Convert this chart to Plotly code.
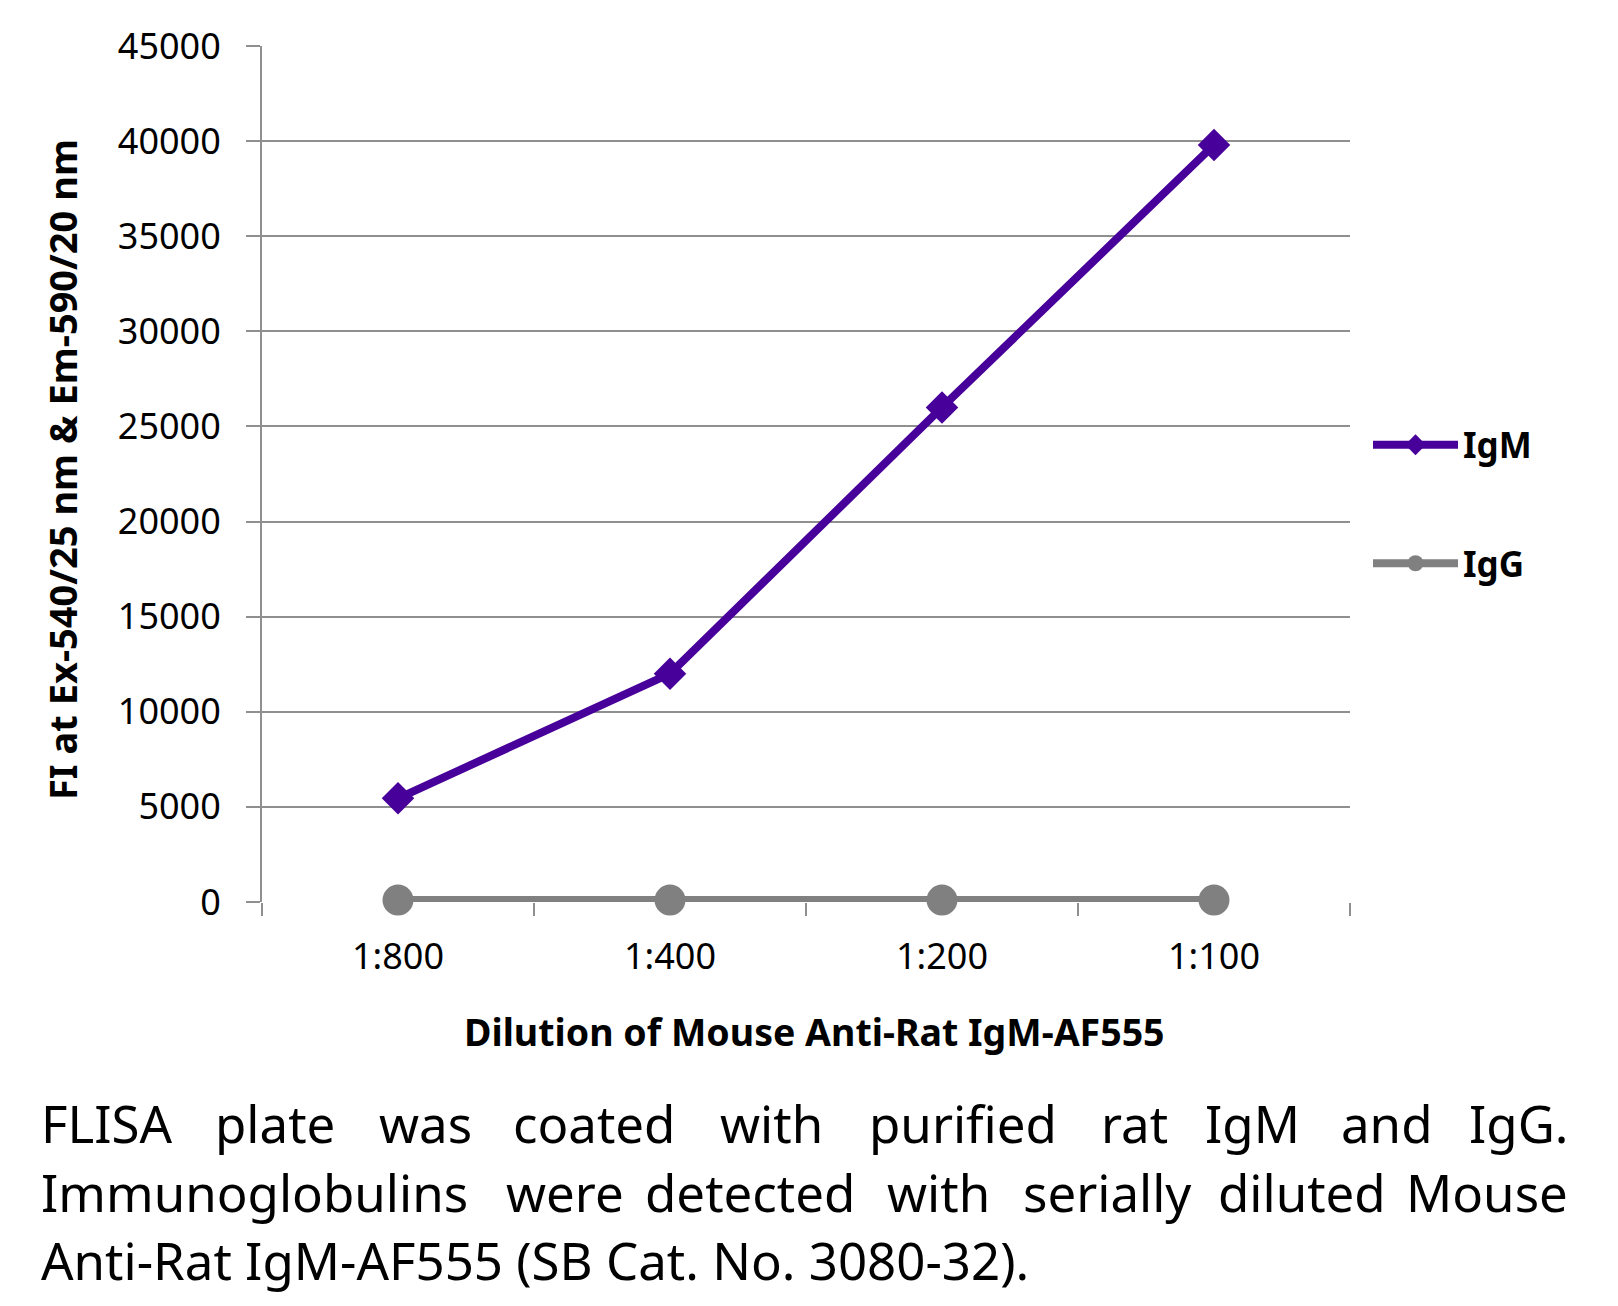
import plotly.graph_objects as go

dilutions = ["1:800", "1:400", "1:200", "1:100"]
igm_values = [5450, 12000, 26000, 39800]
igg_values = [100, 100, 100, 100]
y_ticks = [0, 5000, 10000, 15000, 20000, 25000, 30000, 35000, 40000, 45000]

caption_line1 = ["FLISA", "plate", "was", "coated", "with", "purified", "rat", "IgM", "and", "IgG."]
caption_line2 = ["Immunoglobulins", "were", "detected", "with", "serially", "diluted", "Mouse"]
caption_line3 = "Anti-Rat IgM-AF555 (SB Cat. No. 3080-32)."

W, H = 1618, 1306
L, R, T, B = 262, 268, 46, 404
PW = W - L - R
PH = H - T - B
FONT = "Noto Sans"
PURPLE = "#48009A"
GRAY = "#808080"
GRID = "#8f8f8f"


def px(x):
    return (x - L) / PW


def py(y):
    return (H - B - y) / PH


fig = go.Figure()
fig.add_trace(go.Scatter(
    x=dilutions, y=igm_values, name="IgM", mode="lines+markers",
    line=dict(color=PURPLE, width=8),
    marker=dict(symbol="diamond", size=25, color=PURPLE),
    legendgroup="a", cliponaxis=False,
))
fig.add_trace(go.Scatter(
    x=dilutions, y=igg_values, name="IgG", mode="lines+markers",
    line=dict(color=GRAY, width=8),
    marker=dict(symbol="circle", size=31, color=GRAY),
    legendgroup="b", cliponaxis=False,
))

fig.update_layout(
    width=W, height=H,
    margin=dict(l=L, r=R, t=T, b=B, pad=0),
    paper_bgcolor="white", plot_bgcolor="white",
    font=dict(family=FONT, color="black"),
    showlegend=True,
    legend=dict(
        x=px(1368), y=py(504), xanchor="left", yanchor="middle",
        font=dict(family=FONT, size=35, color="black", weight="bold"),
        tracegroupgap=70, traceorder="grouped", itemwidth=85,
        bgcolor="rgba(0,0,0,0)",
    ),
    xaxis=dict(
        type="category", range=[-0.5, 3.5],
        tickson="boundaries", ticks="outside", ticklen=13, tickwidth=2, tickcolor=GRID,
        showgrid=False, showline=False, zeroline=False,
        tickfont=dict(family=FONT, size=36, color="black"),
        ticklabelstandoff=30,
    ),
    yaxis=dict(
        range=[0, 45000], tickvals=y_ticks, ticktext=[str(v) for v in y_ticks],
        ticks="outside", ticklen=14, tickwidth=2, tickcolor=GRID,
        showgrid=True, gridcolor=GRID, gridwidth=2,
        showline=True, linecolor=GRID, linewidth=2, zeroline=False,
        tickfont=dict(family=FONT, size=36, color="black"),
        ticklabelstandoff=18,
    ),
)

annotations = [
    dict(text="FI at Ex-540/25 nm & Em-590/20 nm", xref="paper", yref="paper",
         x=px(62), y=py(470), textangle=-90, showarrow=False,
         xanchor="center", yanchor="middle",
         font=dict(family=FONT, size=38, color="black", weight="bold")),
    dict(text="Dilution of Mouse Anti-Rat IgM-AF555", xref="paper", yref="paper",
         x=px(814), y=py(1031), showarrow=False, xanchor="center", yanchor="middle",
         font=dict(family=FONT, size=37.5, color="black", weight="bold")),
]

scale = W / 1568
line1_pos = [(38, 165), (208, 325), (367, 457), (497, 655), (697, 799), (842, 1024),
             (1068, 1130), (1170, 1258), (1300, 1388), (1428, 1521)]
line2_pos = [(38, 458), (498, 597), (622, 832), (858, 961), (986, 1160), (1185, 1339), (1365, 1521)]
cap_font = dict(family=FONT, size=51, color="black")


def add_line(words, positions, yc):
    n = len(words)
    for i, (w, (a, b)) in enumerate(zip(words, positions)):
        if i == 0:
            xa, xv = "left", a * scale
        elif i == n - 1:
            xa, xv = "right", b * scale
        else:
            xa, xv = "center", (a + b) / 2 * scale
        annotations.append(dict(text=w, xref="paper", yref="paper", x=px(xv), y=py(yc),
                                showarrow=False, xanchor=xa, yanchor="middle", font=cap_font))


add_line(caption_line1, line1_pos, 1088 * scale)
add_line(caption_line2, line2_pos, 1155 * scale)
annotations.append(dict(text=caption_line3, xref="paper", yref="paper", x=px(38 * scale),
                        y=py(1221 * scale), showarrow=False, xanchor="left", yanchor="middle",
                        font=cap_font))

fig.update_layout(annotations=annotations)
fig.write_html("out.html")
